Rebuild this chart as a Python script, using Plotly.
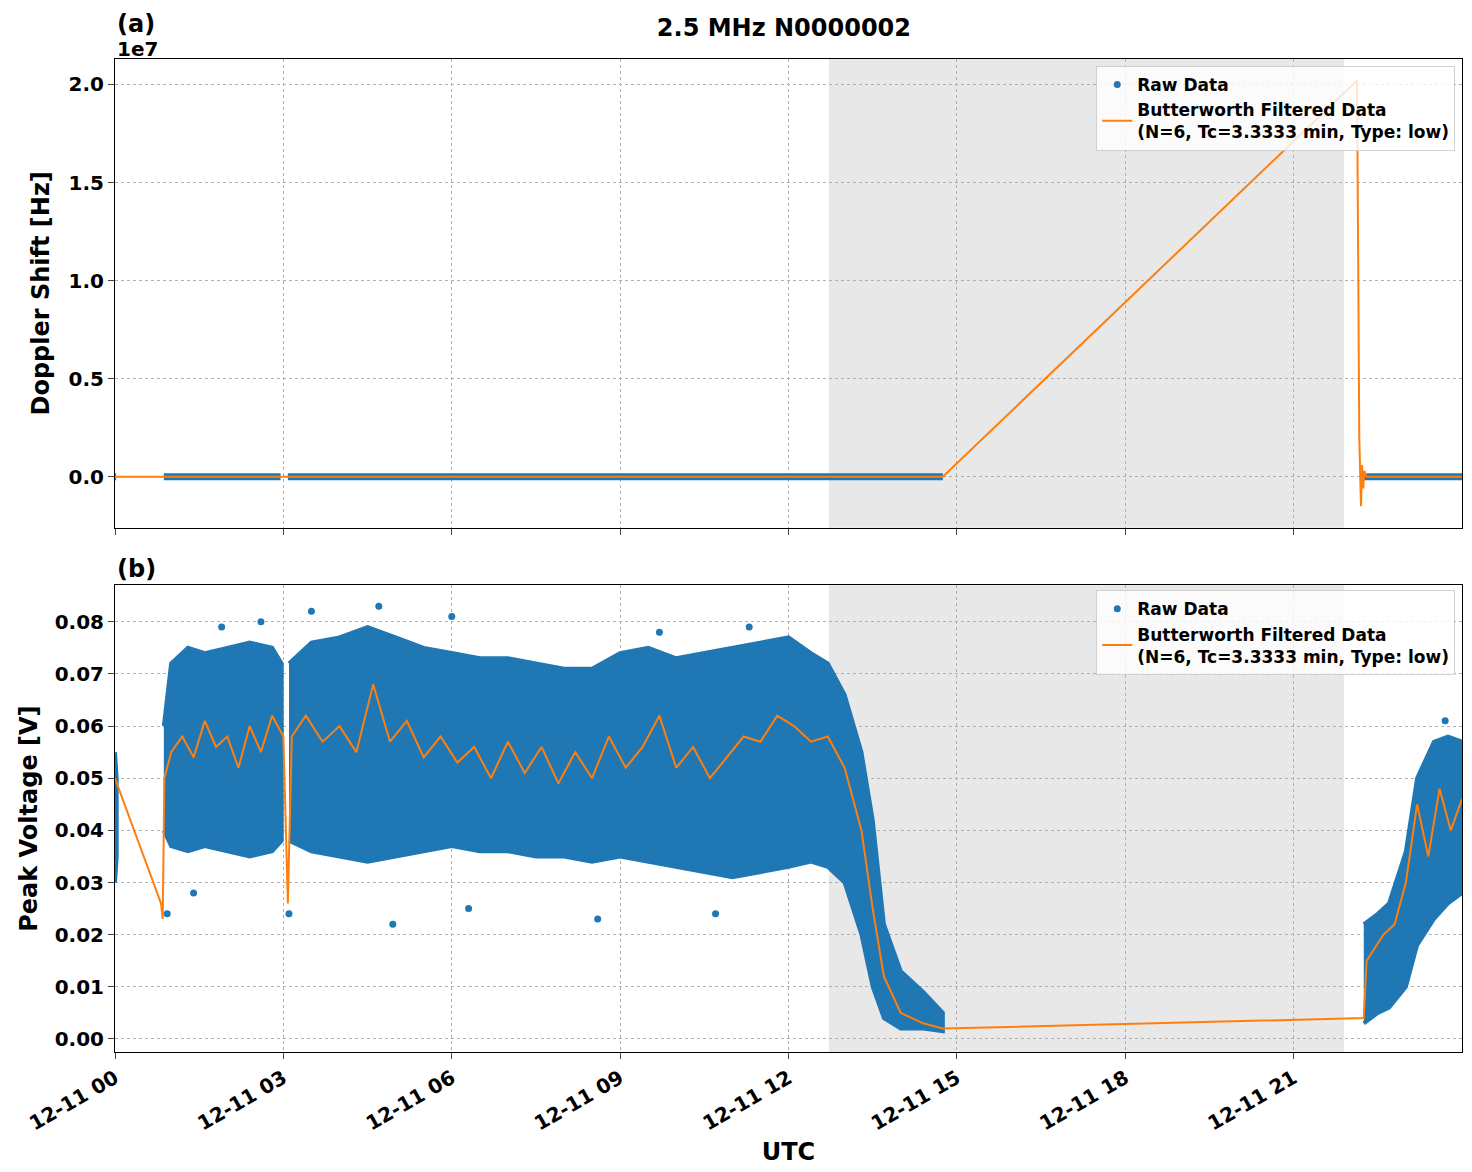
import pandas as pd
import plotly.graph_objects as go

BLUE = "#1f77b4"
ORANGE = "#ff7f0e"
base = pd.Timestamp("2021-12-11 00:00")

def t(hours):
    return [None if h is None else base + pd.Timedelta(hours=h) for h in hours]

# panel (a): raw Doppler data segments (start hour, end hour), all at ~0 Hz
doppler_segments = [(0.0, 0.02), (0.87, 2.95), (3.08, 14.75), (22.25, 24.0)]
# filtered doppler (hour, Hz)
dop_f_hours = [0.0, 14.75, 22.13, 22.17, 22.2, 22.22, 22.24, 22.26, 22.3, 24.0]
dop_f_vals = [0, 0, 2.02e7, 2.0e6, -1.5e6, 6.0e5, -6.0e5, 3.0e5, 0, 0]

# panel (b): raw data envelope per segment: hours, upper, lower
seg_hours = [
    [0.0, 0.03],
    [0.87, 1.0, 1.3, 1.6, 2.0, 2.4, 2.8, 2.97],
    [3.1, 3.5, 4.0, 4.5, 5.0, 5.5, 6.0, 6.5, 7.0, 7.5, 8.0, 8.5, 9.0, 9.5, 10.0,
     10.5, 11.0, 11.5, 12.0, 12.4, 12.7, 13.0, 13.3, 13.5, 13.7, 14.0, 14.4, 14.75],
    [22.25, 22.5, 22.7, 23.0, 23.2, 23.5, 23.75, 24.0],
]
seg_upper = [
    [0.055, 0.05],
    [0.06, 0.072, 0.075, 0.074, 0.075, 0.076, 0.075, 0.072],
    [0.072, 0.076, 0.077, 0.079, 0.077, 0.075, 0.074, 0.073, 0.073, 0.072, 0.071, 0.071,
     0.074, 0.075, 0.073, 0.074, 0.075, 0.076, 0.077, 0.074, 0.072, 0.066, 0.055, 0.042,
     0.022, 0.013, 0.009, 0.005],
    [0.022, 0.024, 0.026, 0.036, 0.05, 0.057, 0.058, 0.057],
]
seg_lower = [
    [0.03, 0.035],
    [0.04, 0.037, 0.036, 0.037, 0.036, 0.035, 0.036, 0.038],
    [0.038, 0.036, 0.035, 0.034, 0.035, 0.036, 0.037, 0.036, 0.036, 0.035, 0.035, 0.034,
     0.035, 0.034, 0.033, 0.032, 0.031, 0.032, 0.033, 0.034, 0.033, 0.03, 0.02, 0.01,
     0.004, 0.002, 0.002, 0.0015],
    [0.003, 0.005, 0.006, 0.01, 0.018, 0.023, 0.026, 0.028],
]
outlier_hours = [1.4, 3.1, 4.95, 8.6, 10.7, 6.3, 4.7, 3.5, 6.0, 1.9, 2.6, 11.3, 9.7, 0.93, 23.7]
outlier_vals = [0.028, 0.024, 0.022, 0.023, 0.024, 0.025, 0.083, 0.082, 0.081, 0.079, 0.08,
                0.079, 0.078, 0.024, 0.061]

# filtered peak voltage (hour, V)
filt_hours = [0.0, 0.82, 0.85, 0.88, 1.0, 1.2, 1.4, 1.6, 1.8, 2.0, 2.2, 2.4, 2.6, 2.8, 3.0,
              3.08, 3.15, 3.4, 3.7, 4.0, 4.3, 4.6, 4.9, 5.2, 5.5, 5.8, 6.1, 6.4, 6.7, 7.0,
              7.3, 7.6, 7.9, 8.2, 8.5, 8.8, 9.1, 9.4, 9.7, 10.0, 10.3, 10.6, 10.9, 11.2,
              11.5, 11.8, 12.1, 12.4, 12.7, 13.0, 13.3, 13.5, 13.7, 14.0, 14.4, 14.75,
              22.25, 22.3, 22.6, 22.8, 23.0, 23.2, 23.4, 23.6, 23.8, 24.0]
filt_vals = [0.05, 0.026, 0.023, 0.05, 0.055, 0.058, 0.054, 0.061, 0.056, 0.058, 0.052,
             0.06, 0.055, 0.062, 0.058, 0.026, 0.058, 0.062, 0.057, 0.06, 0.055, 0.068,
             0.057, 0.061, 0.054, 0.058, 0.053, 0.056, 0.05, 0.057, 0.051, 0.056, 0.049,
             0.055, 0.05, 0.058, 0.052, 0.056, 0.062, 0.052, 0.056, 0.05, 0.054, 0.058,
             0.057, 0.062, 0.06, 0.057, 0.058, 0.052, 0.04, 0.025, 0.012, 0.005, 0.003,
             0.002, 0.004, 0.015, 0.02, 0.022, 0.03, 0.045, 0.035, 0.048, 0.04, 0.046]

fig = go.Figure()

# panel (a)
for a, b in doppler_segments:
    fig.add_trace(go.Scatter(x=t([a, b]), y=[0, 0], mode="lines",
                             line=dict(color=BLUE, width=7), showlegend=False,
                             xaxis="x", yaxis="y"))
fig.add_trace(go.Scatter(x=[None], y=[None], mode="markers", marker=dict(color=BLUE, size=7),
                         name="Raw Data", legend="legend", xaxis="x", yaxis="y"))
fig.add_trace(go.Scatter(x=t(dop_f_hours), y=dop_f_vals, mode="lines",
                         line=dict(color=ORANGE, width=2),
                         name="Butterworth Filtered Data<br>(N=6, Tc=3.3333 min, Type: low)",
                         legend="legend", xaxis="x", yaxis="y"))

# panel (b)
for h, up, lo in zip(seg_hours, seg_upper, seg_lower):
    fig.add_trace(go.Scatter(x=t(h + h[::-1]), y=up + lo[::-1], fill="toself",
                             fillcolor=BLUE, mode="lines", line=dict(color=BLUE, width=4),
                             showlegend=False, xaxis="x2", yaxis="y2"))
fig.add_trace(go.Scatter(x=t(outlier_hours), y=outlier_vals, mode="markers",
                         marker=dict(color=BLUE, size=7), name="Raw Data",
                         legend="legend2", xaxis="x2", yaxis="y2"))
fig.add_trace(go.Scatter(x=t(filt_hours), y=filt_vals, mode="lines",
                         line=dict(color=ORANGE, width=2),
                         name="Butterworth Filtered Data<br>(N=6, Tc=3.3333 min, Type: low)",
                         legend="legend2", xaxis="x2", yaxis="y2"))

shade = dict(type="rect", x0=base + pd.Timedelta(hours=12.72), x1=base + pd.Timedelta(hours=21.9),
             y0=0, y1=1, fillcolor="rgba(150,150,150,0.22)", line_width=0, layer="below")
fig.add_shape(**shade, xref="x", yref="y domain")
fig.add_shape(**shade, xref="x2", yref="y2 domain")

xr = [base, base + pd.Timedelta(hours=24)]
ticks = [base + pd.Timedelta(hours=h) for h in range(0, 24, 3)]
common_x = dict(range=xr, tickvals=ticks, showgrid=True, gridcolor="#b0b0b0", griddash="dot",
                showline=True, linecolor="black", mirror=True, ticks="outside", ticklen=6,
                automargin=False)
common_y = dict(showgrid=True, gridcolor="#b0b0b0", griddash="dot", showline=True,
                linecolor="black", mirror=True, ticks="outside", ticklen=6, zeroline=False,
                automargin=False)

legend_style = dict(x=0.995, xanchor="right", bgcolor="rgba(255,255,255,0.8)",
                    bordercolor="#d0d0d0", borderwidth=1, font=dict(size=17))

fig.update_layout(
    width=1464, height=1164, plot_bgcolor="white", paper_bgcolor="white",
    font=dict(family="DejaVu Sans", size=20, color="black", weight="bold"),
    margin=dict(l=107, r=10, t=51, b=120, autoexpand=False),
    title=dict(text="2.5 MHz N0000002", x=0.53, y=0.99, xanchor="center",
               automargin=False, font=dict(size=24, weight="bold")),
    xaxis=dict(**common_x, domain=[0, 1], anchor="y", showticklabels=False),
    yaxis=dict(**common_y, domain=[0.528, 1], range=[-2.6e6, 2.13e7],
               tickvals=[0, 5e6, 1e7, 1.5e7, 2e7], ticktext=["0.0", "0.5", "1.0", "1.5", "2.0"],
               title=dict(text="Doppler Shift [Hz]", standoff=12)),
    xaxis2=dict(**common_x, domain=[0, 1], anchor="y2", tickformat="%m-%d %H", tickangle=-30,
                title=dict(text="UTC", standoff=8)),
    yaxis2=dict(**common_y, domain=[0, 0.47], range=[-0.0025, 0.087], dtick=0.01,
                tickformat=".2f", title=dict(text="Peak Voltage [V]", standoff=10)),
    legend=dict(**legend_style, y=0.993, yanchor="top"),
    legend2=dict(**legend_style, y=0.465, yanchor="top"),
    annotations=[
        dict(text="(a)", x=0, y=1.0, xref="paper", yref="paper", xanchor="left",
             yanchor="bottom", yshift=19, showarrow=False, font=dict(size=24)),
        dict(text="1e7", x=0, y=1.0, xref="paper", yref="paper", xanchor="left",
             yanchor="bottom", yshift=-4, showarrow=False, font=dict(size=20)),
        dict(text="(b)", x=0, y=0.47, xref="paper", yref="paper", xanchor="left",
             yanchor="bottom", showarrow=False, font=dict(size=24)),
    ],
)

fig.write_html("out.html")
